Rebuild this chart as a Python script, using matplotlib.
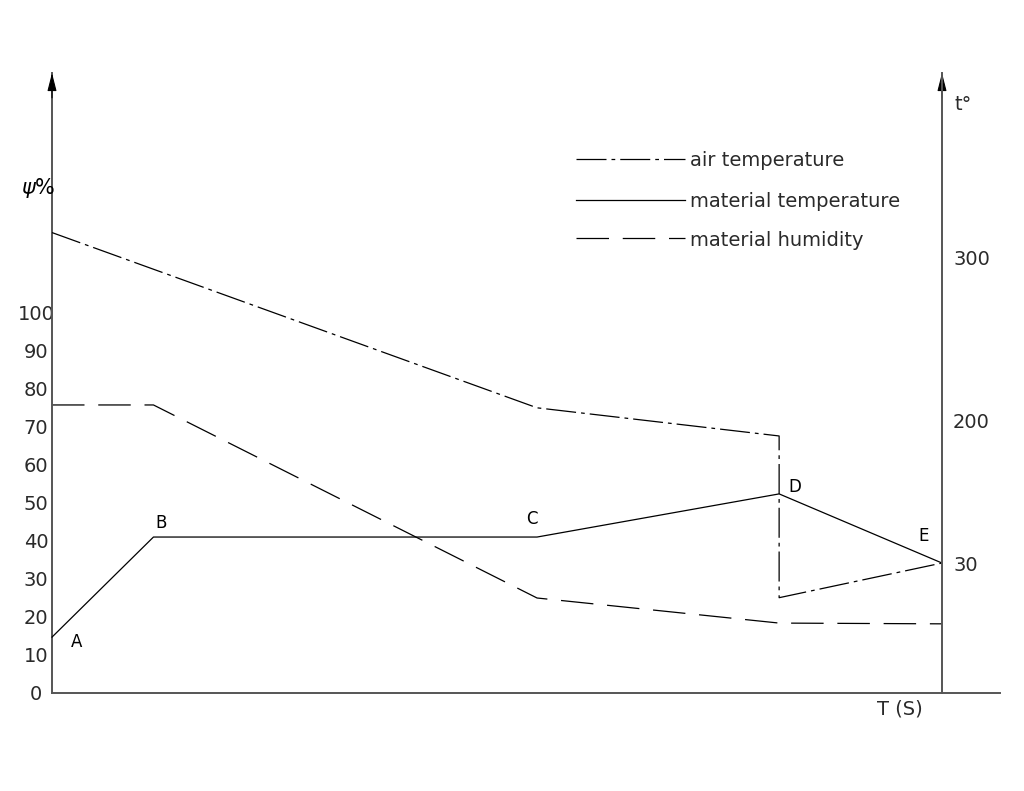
import numpy as np
import matplotlib
matplotlib.use("Agg")
import matplotlib.pyplot as plt
from matplotlib.lines import Line2D

# ---- data ----
time = [0, 11.4, 54.5, 81.7, 100]            # relative time positions of A..E
humidity = [75.8, 75.8, 25.0, 18.4, 18.2]      # material humidity, psi %
mat_temp = [12.9, 61.1, 61.1, 112.7, 30.0]     # material temperature, t deg
air_time = [0, 54.5, 81.7, 81.7, 100]
air_temp = [315.0, 208.0, 182.0, 22.0, 30.0]   # air temperature, t deg
point_labels = ["A", "B", "C", "D", "E"]
psi_ticks = list(range(0, 101, 10))
t_ticks = [30, 200, 300]
legend_labels = ['air temperature', 'material temperature', 'material humidity']

# piecewise temperature axis (as drawn, non-uniform)
t_knots = np.array([0, 30, 200, 300, 600])
psi_knots = np.array([0, 34.2, 71.6, 114.7, 244.0])

def fwd(t):
    return np.interp(t, t_knots, psi_knots)

def inv(p):
    return np.interp(p, psi_knots, t_knots)

W, H = 1024, 791
fig = plt.figure(figsize=(W / 100, H / 100), dpi=100)
ax = fig.add_axes([52 / W, 98 / H, 890 / W, 620 / H])
ax.set_xlim(0, 100)
ytop = 620 / 3.8
ax.set_ylim(0, ytop)

ax2 = ax.twinx()
ax2.set_yscale('function', functions=(fwd, inv))
ax2.set_ylim(0, inv(ytop))

axcol = '#555555'
txtcol = '#2a2a2a'
for a in (ax, ax2):
    for s in a.spines.values():
        s.set_visible(False)
ax.spines['left'].set_visible(True)
ax.spines['left'].set_color(axcol)
ax.spines['left'].set_linewidth(1.4)
ax2.spines['right'].set_visible(True)
ax2.spines['right'].set_color(axcol)
ax2.spines['right'].set_linewidth(1.4)

# bottom axis extended beyond right axis
ax.add_line(Line2D([0, 948 / 890], [0, 0], transform=ax.transAxes, color=axcol,
                   lw=1.4, clip_on=False))

# arrowheads
for xa in (0, 1):
    ax.annotate('', xy=(xa, 1.0), xytext=(xa, 0.96), xycoords='axes fraction',
                textcoords='axes fraction',
                arrowprops=dict(arrowstyle='-|>,head_length=1.1,head_width=0.28',
                                color='black', lw=0.8, shrinkA=0, shrinkB=0))

tfont = dict(family='DejaVu Sans', fontsize=14, color=txtcol)
ax.set_xticks([])
ax.set_yticks(psi_ticks)
ax.set_yticklabels([str(v) for v in psi_ticks], ha='center', **tfont)
ax.tick_params(axis='y', length=0, pad=11.5)
ax2.set_yticks(t_ticks)
ax2.set_yticklabels([str(v) for v in t_ticks], **tfont)
ax2.tick_params(axis='y', length=0, pad=8)
ax2.minorticks_off()

# series
ax.plot(time, humidity, color='black', lw=0.9, dashes=(26, 11), clip_on=False)
ax2.plot(time, mat_temp, color='black', lw=0.9, clip_on=False)
ax2.plot(air_time, air_temp, color='black', lw=0.9, dashes=(24, 4, 3, 4), clip_on=False)

# point labels
offs = [(25, -5), (8, 14), (-5, 18), (16, 7), (-18, 27)]
for i, lab in enumerate(point_labels):
    ax2.annotate(lab, xy=(time[i], mat_temp[i]), xytext=offs[i], textcoords='offset pixels',
                 ha='center', va='center', fontsize=12, family='DejaVu Sans', color='black')

# axis titles
fig.text(38 / W, 1 - 188 / H, r'$\psi$%', fontsize=15, ha='center', va='center')
fig.text(963 / W, 1 - 104 / H, 't°', fontsize=14, ha='center', va='center', color=txtcol)
fig.text(900 / W, 1 - 709 / H, 'T (S)', fontsize=14, ha='center', va='center', color=txtcol)

# legend (drawn as key lines + text)
styles = [dict(dashes=(24, 4, 3, 4)), dict(), dict(dashes=(26, 11))]
rows_y = [159, 200, 238]
for lab, st, yy in zip(legend_labels, styles, rows_y):
    fig.add_artist(Line2D([576 / W, 685 / W], [1 - yy / H, 1 - yy / H],
                          transform=fig.transFigure, color='black', lw=0.9, **st))
    fig.text(690 / W, 1 - yy / H, lab, fontsize=14, ha='left', va='center_baseline',
             color=txtcol)

fig.savefig('out.png', dpi=100)
